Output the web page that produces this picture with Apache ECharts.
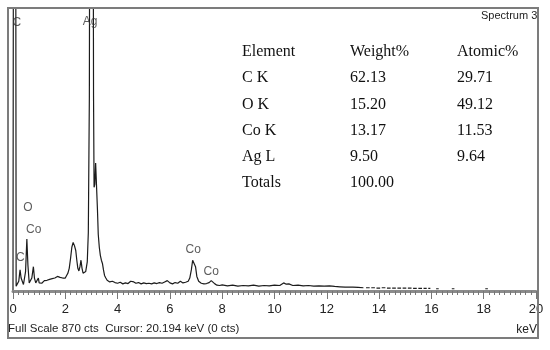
<!DOCTYPE html>
<html>
<head>
<meta charset="utf-8">
<script src="https://cdn.jsdelivr.net/npm/echarts/dist/echarts.min.js"></script>
<style>html,body{margin:0;padding:0;background:#fff}#c{width:550px;height:350px}</style>
</head>
<body>
<div id="c"></div>
<script>
// ---- data ----
var fullScale = 870;
var cursorText = 'Cursor: 20.194 keV (0 cts)';
var spectrumName = 'Spectrum 3';
var xTickLabels = ['0','2','4','6','8','10','12','14','16','18','20'];

var energyKeV = [
 0.00,0.02,0.10,0.12,0.18,0.22,0.27,0.31,0.35,0.40,0.44,0.48,0.53,0.57,0.62,0.67,0.72,0.78,0.82,0.87,0.92,0.97,
 1.00,1.05,1.10,1.15,1.20,1.25,1.30,1.35,1.40,1.45,1.50,1.55,1.60,1.65,1.70,1.75,1.80,1.85,1.90,1.95,2.00,2.05,
 2.10,2.15,2.20,2.25,2.30,2.35,2.40,2.44,2.48,2.52,2.56,2.60,2.64,2.68,2.72,2.78,2.84,2.88,2.92,2.95,3.05,3.08,
 3.10,3.13,3.16,3.20,3.23,3.26,3.30,3.34,3.38,3.42,3.46,3.50,3.55,3.60,3.65,3.70,3.75,3.80,3.85,3.90,
 4.00,4.10,4.20,4.30,4.40,4.50,4.56,4.62,4.70,4.80,4.90,5.00,5.10,5.20,5.30,5.40,5.50,5.60,5.70,5.80,5.90,
 6.00,6.10,6.20,6.30,6.40,6.50,6.60,6.70,6.76,6.82,6.87,6.93,6.98,7.03,7.10,7.20,7.30,7.40,7.50,7.58,7.65,7.72,
 7.80,7.90,8.00,8.20,8.40,8.60,8.80,9.00,9.20,9.40,9.60,9.80,10.00,10.20,10.35,10.45,10.55,10.70,10.90,
 11.10,11.30,11.50,11.70,11.90,12.10,12.30,12.50,12.70,13.00,13.20,13.40,13.48,
 13.50,13.64,13.66,13.70,13.84,13.86,13.90,14.04,14.06,14.10,14.24,14.26,14.30,14.44,14.46,14.50,14.64,14.66,
 14.70,14.84,14.86,14.90,15.04,15.06,15.10,15.24,15.26,15.30,15.44,15.46,15.50,15.64,15.66,15.70,15.82,15.84,
 15.88,15.96,15.98,16.18,16.28,16.30,16.78,16.88,16.90,18.06,18.16,18.18
];
var counts = [
 0,1500,1500,15,10,30,65,40,45,20,18,60,160,80,25,22,40,75,40,25,28,40,
 25,30,24,28,32,27,33,30,36,32,38,35,40,37,45,50,42,38,40,43,40,48,
 55,70,100,135,150,140,125,95,70,62,75,95,70,55,52,60,90,180,600,2000,2000,600,
 320,330,395,390,250,175,135,110,95,85,65,48,40,33,36,28,25,30,34,26,
 24,27,22,25,23,30,34,28,24,26,22,25,23,24,22,25,23,26,24,28,32,
 25,22,26,24,30,25,27,30,40,65,95,100,75,45,30,24,22,23,26,32,30,22,
 18,17,19,16,18,15,17,16,18,15,17,16,18,17,25,21,22,17,18,
 16,17,15,16,15,16,14,13,12,12,11,10,null,
 10,10,null,10,10,null,9,9,null,10,10,null,9,9,null,9,9,null,
 9,9,null,9,9,null,9,9,null,8,8,null,8,8,null,8,8,null,
 8,8,null,7,7,null,7,7,null,7,7,null
];

var peakLabelNames = ['C','Ag','O','Co','C','Co','Co'];
var peakLabelKeV   = [0.15,2.95,0.57,0.79,0.28,6.89,7.58];
var peakLabelCts   = [828,830,256,188,102,126,59];

var tableHeader   = ['Element','Weight%','Atomic%'];
var tableElements = ['C K','O K','Co K','Ag L','Totals'];
var weightPct     = ['62.13','15.20','13.17','9.50','100.00'];
var atomicPct     = ['29.71','49.12','11.53','9.64',''];

// ---- build ----
var specData = energyKeV.map(function(e,i){ return [e, counts[i] === null ? '-' : counts[i]]; });
var labelData = peakLabelNames.map(function(n,i){ return {name:n, value:[peakLabelKeV[i], peakLabelCts[i]]}; });

var graphics = [];
var colX = [242, 350, 457];
var rowY0 = 52, rowStep = 26.2;
var tFont = '16px "Liberation Serif", "Times New Roman", serif';
function addText(x,y,t,font,align,fill){
  graphics.push({type:'text', x:x, y:y, z:50, style:{text:t, font:font, fill:fill||'#111', align:align||'left', verticalAlign:'middle'}});
}
tableHeader.forEach(function(h,j){ addText(colX[j], rowY0, h, tFont); });
tableElements.forEach(function(el,i){
  var y = rowY0 + rowStep*(i+1);
  addText(colX[0], y, el, tFont);
  addText(colX[1], y, weightPct[i], tFont);
  if (atomicPct[i]) addText(colX[2], y, atomicPct[i], tFont);
});
addText(481, 16, spectrumName, '11px "Liberation Sans", Arial, sans-serif', 'left', '#222');
addText(8, 329, 'Full Scale ' + fullScale + ' cts  ' + cursorText, '11.5px "Liberation Sans", Arial, sans-serif', 'left', '#222');
addText(537, 330, 'keV', '12px "Liberation Sans", Arial, sans-serif', 'right', '#222');
graphics.push({type:'rect', z:60, shape:{x:8, y:8, width:530, height:330}, style:{fill:'none', stroke:'#7c7c7c', lineWidth:2}});

var chart = echarts.init(document.getElementById('c'), null, {renderer:'canvas'});
chart.setOption({
  animation:false,
  backgroundColor:'#fff',
  grid:{left:13, right:14, top:9, bottom:59},
  xAxis:{
    type:'value', min:0, max:20, interval:2, z:10,
    axisLine:{show:true, lineStyle:{color:'#8a8a8a', width:3}},
    axisTick:{show:true, length:8, lineStyle:{color:'#777', width:1}},
    minorTick:{show:true, splitNumber:10, length:4, lineStyle:{color:'#777', width:1}},
    splitLine:{show:false},
    axisLabel:{margin:12, color:'#222', fontSize:13, fontFamily:'"Liberation Sans", Arial, sans-serif',
      formatter:function(v){ return xTickLabels[Math.round(v/2)]; }}
  },
  yAxis:{type:'value', min:0, max:fullScale, show:false, splitLine:{show:false}},
  series:[
    {type:'line', data:specData, showSymbol:false, clip:true, connectNulls:false, z:2,
     lineStyle:{color:'#1c1c1c', width:1.2}},
    {type:'scatter', data:labelData, symbolSize:1, itemStyle:{color:'transparent'}, z:5,
     label:{show:true, position:'inside', formatter:'{b}', color:'#333', fontSize:12,
            fontFamily:'"Liberation Sans", Arial, sans-serif'}}
  ],
  graphic:graphics
});
</script>
</body>
</html>
